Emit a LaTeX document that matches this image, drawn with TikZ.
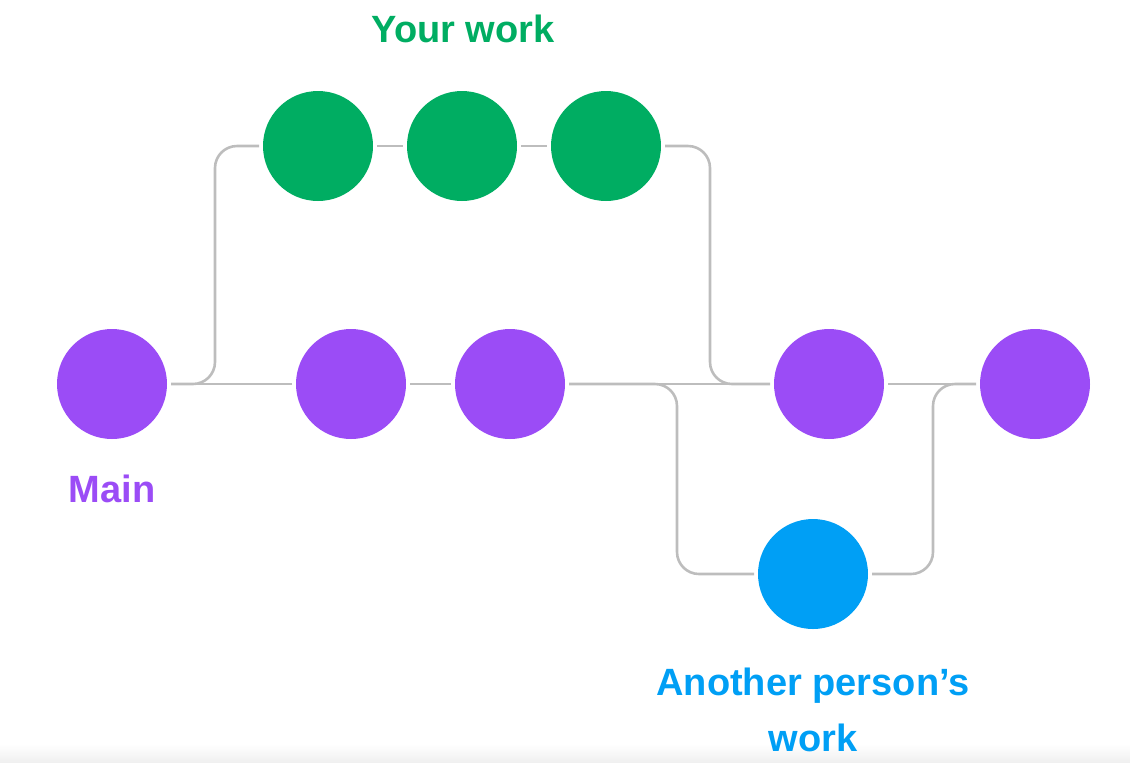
\documentclass[tikz,border=0pt]{standalone}
\usepackage{fontspec}
\setmainfont{Liberation Sans}
\definecolor{mainpurple}{RGB}{155,76,246}
\definecolor{workgreen}{RGB}{0,173,98}
\definecolor{otherblue}{RGB}{0,159,245}
\definecolor{linegray}{RGB}{189,189,189}
\tikzset{
    commit/.style={circle, fill=#1, minimum size=55pt, inner sep=0pt, outer sep=2pt},
    branch/.style={draw=linegray, line width=1.3pt, rounded corners=11pt},
    lbl/.style={anchor=base, font=\fontsize{19}{23}\selectfont\bfseries, text=#1}
}
\begin{document}
\begin{tikzpicture}[x=0.5pt, y=-0.5pt]
    \useasboundingbox (0,0) rectangle (1130,762);
    \shade[top color=white, bottom color=black!6] (0,744) rectangle (1130,762);

    %commit
    \node[commit=mainpurple] (m1) at (112,384) {};
    \node[commit=mainpurple] (m2) at (351,384) {};
    \node[commit=mainpurple] (m3) at (510,384) {};
    \node[commit=mainpurple] (m4) at (829,384) {};
    \node[commit=mainpurple] (m5) at (1035,384) {};
    \node[commit=workgreen] (g1) at (318,146) {};
    \node[commit=workgreen] (g2) at (462,146) {};
    \node[commit=workgreen] (g3) at (606,146) {};
    \node[commit=otherblue] (a1) at (813,574) {};

    %punti di svolta
    \coordinate (b1) at (215,146);
    \coordinate (b2) at (710,146);
    \coordinate (b3) at (677,384);
    \coordinate (b4) at (933,574);

    %linee
    \draw[branch] (m1.east) -- (m2.west);
    \draw[branch] (m2.east) -- (m3.west);
    \draw[branch] (m3.east) -- (m4.west);
    \draw[branch] (m4.east) -- (m5.west);
    \draw[branch] (g1.east) -- (g2.west);
    \draw[branch] (g2.east) -- (g3.west);
    \draw[branch] (m1.east) -| (b1) -- (g1.west);
    \draw[branch] (g3.east) -- (b2) |- (m4.west);
    \draw[branch] (m3.east) -- (b3) |- (a1.west);
    \draw[branch] (a1.east) -- (b4) |- (m5.west);

    %etichette
    \node[lbl=workgreen] (tyour) at (463,42) {Your work};
    \node[lbl=mainpurple] (tmain) at (112,502) {Main};
    \node[lbl=otherblue] (tother) at (813,695) {Another person’s};
    \node[lbl=otherblue] (twork) at (813,751) {work};
\end{tikzpicture}
\end{document}
